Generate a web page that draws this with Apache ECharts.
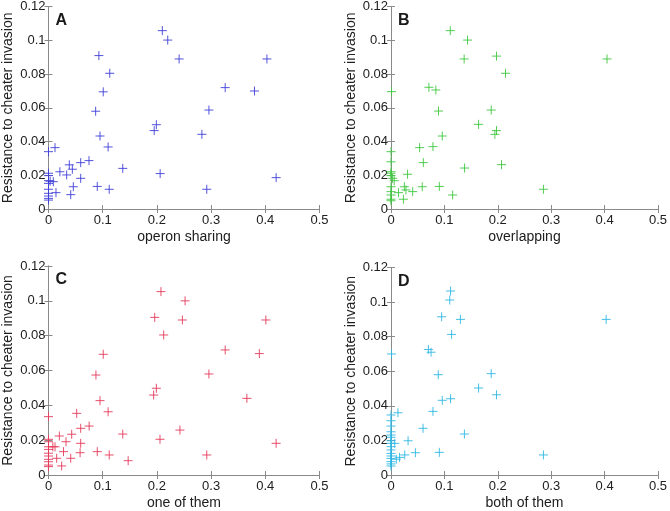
<!DOCTYPE html>
<html><head><meta charset="utf-8">
<script src="https://cdn.jsdelivr.net/npm/echarts@6/dist/echarts.min.js"></script>
<style>html,body{margin:0;padding:0;background:#fff}#c{width:670px;height:511px}</style>
</head><body><div id="c"></div>
<script>
const xTicks = [0, 0.1, 0.2, 0.3, 0.4, 0.5];
const yTicks = [0, 0.02, 0.04, 0.06, 0.08, 0.1, 0.12];
const yLabel = 'Resistance to cheater invasion';
const panelLetters = ['A', 'B', 'C', 'D'];
const xLabels = ['operon sharing', 'overlapping', 'one of them', 'both of them'];
const colors = ['#4040d8', '#40c840', '#e43c5c', '#30b8e4'];

const operonSharing = [[0.210,0.1058],[0.220,0.1002],[0.241,0.089],[0.403,0.089],[0.093,0.091],[0.113,0.0805],[0.101,0.0695],[0.326,0.072],[0.380,0.070],[0.087,0.058],[0.296,0.0587],[0.199,0.050],[0.195,0.0465],[0.283,0.0443],[0.095,0.0433],[0.110,0.0368],[0.012,0.0364],[0,0.034],[0.0747,0.0287],[0.0594,0.0275],[0.0384,0.0262],[0.044,0.0236],[0.021,0.0221],[0.0335,0.0202],[0.137,0.0241],[0.206,0.021],[0.42,0.0186],[0.0594,0.0182],[0,0.0212],[0,0.0198],[0.0089,0.0162],[0.003,0.0165],[0,0.0168],[0,0.0152],[0.0458,0.0132],[0.090,0.0134],[0.112,0.0117],[0.292,0.0117],[0,0.0117],[0.0138,0.0097],[0,0.0093],[0.041,0.0085],[0,0.0077],[0,0.0063],[0,0.0053]];
const overlapping = [[0.111,0.1058],[0.1434,0.1002],[0.137,0.089],[0.1976,0.0907],[0.4046,0.089],[0.2145,0.0805],[0.071,0.0722],[0.084,0.0706],[0.001,0.0696],[0.089,0.0581],[0.1877,0.0587],[0.164,0.0502],[0.1976,0.0465],[0.1945,0.0443],[0.096,0.0433],[0.0786,0.037],[0.0536,0.0364],[0,0.034],[0,0.028],[0.0605,0.0275],[0.207,0.0263],[0.1378,0.0243],[0.031,0.0206],[0,0.0221],[0,0.0212],[0,0.0198],[0.003,0.0182],[0.006,0.0168],[0,0.0132],[0.0585,0.0132],[0.0905,0.0134],[0.025,0.0132],[0.028,0.0113],[0.0406,0.0103],[0.014,0.0097],[0.1155,0.0083],[0.0232,0.0058],[0.2855,0.0117],[0,0.0103],[0,0.0083],[0,0.0058],[0,0.0049]];
const oneOfThem = [[0.2075,0.1053],[0.252,0.100],[0.196,0.0905],[0.247,0.089],[0.401,0.089],[0.2125,0.0804],[0.101,0.0693],[0.326,0.0718],[0.389,0.0697],[0.0875,0.0574],[0.296,0.058],[0.199,0.0498],[0.194,0.0459],[0.366,0.044],[0.095,0.0427],[0.110,0.0363],[0.052,0.0354],[0,0.0335],[0.075,0.0281],[0.0594,0.0268],[0.137,0.0235],[0.2425,0.0258],[0.2057,0.0205],[0.42,0.0182],[0.0428,0.0234],[0.020,0.0224],[0.0323,0.0191],[0.0594,0.0182],[0,0.0205],[0,0.0191],[0.008,0.0162],[0.012,0.0162],[0,0.0162],[0,0.0147],[0.0277,0.0134],[0.0583,0.0128],[0.090,0.0134],[0.112,0.0115],[0.292,0.0115],[0.0151,0.0096],[0.041,0.0096],[0.147,0.0082],[0.0243,0.0052],[0,0.0125],[0,0.0109],[0,0.009],[0,0.0076],[0,0.0057],[0,0.0048]];
const bothOfThem = [[0.1116,0.1064],[0.110,0.1012],[0.0948,0.0915],[0.130,0.090],[0.403,0.090],[0.1135,0.0813],[0.070,0.0726],[0.075,0.071],[0.001,0.070],[0.0885,0.058],[0.1877,0.0586],[0.164,0.0503],[0.1976,0.0464],[0.1116,0.0441],[0.096,0.0432],[0.0786,0.0368],[0.013,0.036],[0,0.0347],[0,0.0314],[0,0.0283],[0,0.025],[0,0.0231],[0,0.0218],[0,0.0198],[0,0.0183],[0,0.0164],[0,0.0145],[0,0.0125],[0,0.011],[0,0.0096],[0,0.0077],[0,0.0064],[0,0.0052],[0.007,0.0183],[0.01,0.0091],[0.016,0.0102],[0.0257,0.0116],[0.032,0.0198],[0.0457,0.0129],[0.060,0.027],[0.0905,0.0131],[0.1375,0.0237],[0.2855,0.0116]];
const panelData = [operonSharing, overlapping, oneOfThem, bothOfThem];

const FONT = 'Liberation Sans, Arial, sans-serif';
const AXIS_COLOR = '#8a8a8a';
const TEXT_COLOR = '#202020';

const grids = [
  {left: 48.5, top: 6.7, width: 271, height: 202.3},
  {left: 391, top: 6.7, width: 267, height: 202.3},
  {left: 48.5, top: 266, width: 271, height: 209},
  {left: 391, top: 267.5, width: 267, height: 207.5}
];

const xAxis = [], yAxis = [], series = [], graphic = [];
grids.forEach((g, i) => {
  const base = {
    type: 'value', gridIndex: i, min: 0,
    axisLine: {show: true, lineStyle: {color: AXIS_COLOR, width: 1}},
    axisTick: {show: true, inside: true, length: 4, lineStyle: {color: AXIS_COLOR}},
    splitLine: {show: false}
  };
  xAxis.push(Object.assign({}, base, {
    position: 'bottom', max: 0.5, interval: 0.1,
    axisLabel: {color: TEXT_COLOR, fontFamily: FONT, fontSize: 13, margin: 5,
      formatter: v => String(parseFloat(v.toFixed(2)))},
    name: xLabels[i], nameLocation: 'middle', nameGap: 21,
    nameTextStyle: {color: TEXT_COLOR, fontFamily: FONT, fontSize: 14}
  }));
  xAxis.push(Object.assign({}, base, {
    position: 'top', max: 0.5, interval: 0.1, axisLabel: {show: false}
  }));
  yAxis.push(Object.assign({}, base, {
    position: 'left', max: 0.12, interval: 0.02,
    axisLabel: {color: TEXT_COLOR, fontFamily: FONT, fontSize: 13, margin: 3,
      formatter: v => String(parseFloat(v.toFixed(2)))},
    name: yLabel, nameLocation: 'middle', nameGap: 33, nameRotate: 90,
    nameTextStyle: {color: TEXT_COLOR, fontFamily: FONT, fontSize: 14}
  }));
  yAxis.push(Object.assign({}, base, {
    position: 'right', max: 0.12, interval: 0.02, axisLabel: {show: false}
  }));
  series.push({
    type: 'scatter', xAxisIndex: i * 2, yAxisIndex: i * 2,
    data: panelData[i],
    symbol: 'path://M0,5L10,5M5,0L5,10', symbolSize: 9,
    itemStyle: {color: 'rgba(0,0,0,0)', borderColor: colors[i], borderWidth: 1, opacity: 0.9},
    emphasis: {disabled: true}, animation: false
  });
  graphic.push({
    type: 'text', left: g.left + 7, top: g.top + 6,
    style: {text: panelLetters[i], fontFamily: FONT, fontSize: 16, fontWeight: 'bold', fill: '#1a1a1a'}
  });
});

const chart = echarts.init(document.getElementById('c'), null, {renderer: 'canvas'});
chart.setOption({
  animation: false,
  grid: grids,
  xAxis, yAxis, series, graphic
});
</script></body></html>
